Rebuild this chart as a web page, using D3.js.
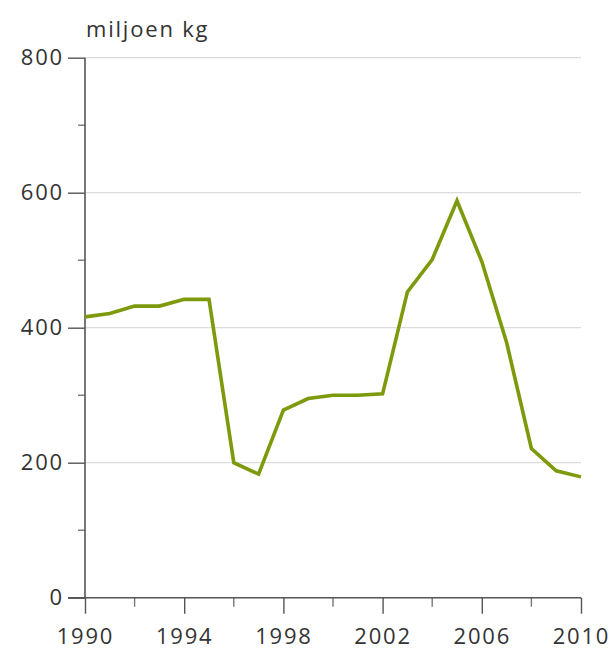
<!DOCTYPE html>
<html><head><meta charset="utf-8">
<script src="https://cdn.jsdelivr.net/npm/d3@7"></script>
<style>body{margin:0;background:#fff}svg text{font-family:"Open Sans",sans-serif;fill:#333;letter-spacing:1.8px}</style>
</head><body><svg id="c" width="611" height="650"></svg>
<script>
const years = [1990,1991,1992,1993,1994,1995,1996,1997,1998,1999,2000,2001,2002,2003,2004,2005,2006,2007,2008,2009,2010];
const values = [416,421,432,432,442,442,200,183,278,295,300,300,302,453,501,588,498,378,221,188,179];
const yTicks = [0,200,400,600,800];
const yMinorTicks = [100,300,500,700];
const xTicks = [1990,1994,1998,2002,2006,2010];
const xMinorTicks = [1992,1996,2000,2004,2008];
const unitLabel = "miljoen kg";

const svg = d3.select("#c");
const x = d3.scaleLinear().domain([1990,2010]).range([85,581]);
const y = d3.scaleLinear().domain([0,800]).range([597.7,57.7]);

// gridlines
svg.append("g").selectAll("line").data(yTicks.filter(d=>d>0)).join("line")
  .attr("x1",85).attr("x2",581).attr("y1",d=>y(d)).attr("y2",d=>y(d))
  .attr("stroke","#dcdcdc").attr("stroke-width",1.3);

// y axis
const ya = svg.append("g").attr("transform","translate(85,0)")
  .call(d3.axisLeft(y).tickValues(yTicks).tickSize(17).tickPadding(4).tickFormat(d3.format("d")));
ya.call(g=>g.select(".domain").remove());
ya.selectAll("line").attr("stroke","#555").attr("stroke-width",1.4);
ya.selectAll("text").style("font-size","22px").attr("fill","#333");
svg.append("g").selectAll("line").data(yMinorTicks).join("line")
  .attr("x1",78).attr("x2",85).attr("y1",d=>y(d)).attr("y2",d=>y(d))
  .attr("stroke","#777").attr("stroke-width",1.4);
svg.append("line").attr("x1",85).attr("x2",85).attr("y1",y(800)).attr("y2",y(0))
  .attr("stroke","#555").attr("stroke-width",1.6);

// x axis
const xa = svg.append("g").attr("transform",`translate(0,${y(0)})`)
  .call(d3.axisBottom(x).tickValues(xTicks).tickSize(16).tickPadding(15).tickFormat(d3.format("d")));
xa.call(g=>g.select(".domain").remove());
xa.selectAll("line").attr("stroke","#555").attr("stroke-width",1.4);
xa.selectAll("text").style("font-size","22px").attr("fill","#333");
svg.append("g").selectAll("line").data(xMinorTicks).join("line")
  .attr("x1",d=>x(d)).attr("x2",d=>x(d)).attr("y1",y(0)).attr("y2",y(0)+9)
  .attr("stroke","#777").attr("stroke-width",1.4);
svg.append("line").attr("x1",68).attr("x2",581).attr("y1",y(0)).attr("y2",y(0))
  .attr("stroke","#555").attr("stroke-width",1.6);

// unit label
svg.append("text").attr("x",86).attr("y",37).style("font-size","22px").text(unitLabel);

// line
const line = d3.line().x((d,i)=>x(years[i])).y(d=>y(d));
svg.append("path").datum(values).attr("d",line).attr("fill","none")
  .attr("stroke","#7d9a0c").attr("stroke-width",3.6).attr("stroke-linejoin","miter");
</script></body></html>
